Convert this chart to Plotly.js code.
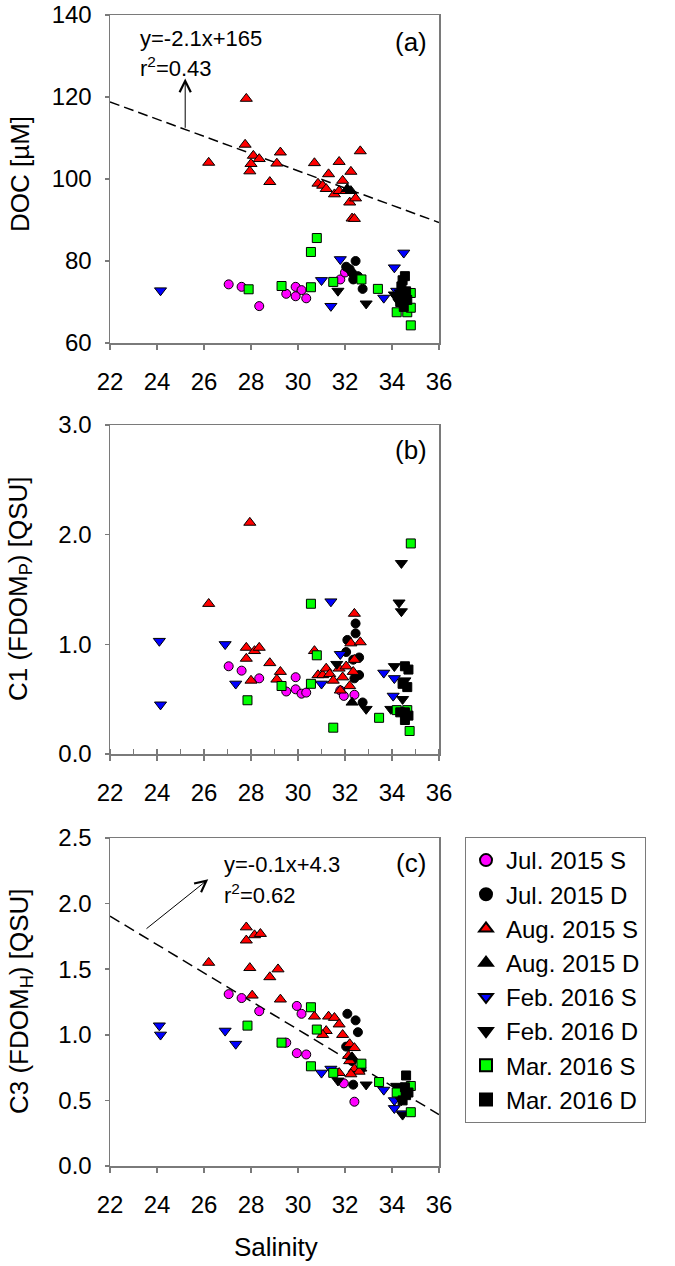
<!DOCTYPE html>
<html>
<head>
<meta charset="utf-8">
<script src="https://cdn.plot.ly/plotly-3.0.1.min.js"></script>
<style>
  html, body { margin: 0; padding: 0; background: #fff; }
  #chart { width: 675px; height: 1266px; }
</style>
</head>
<body>
<div id="chart"></div>
<script>
// ---- data: [salinity, value] ----
const seriesNames = ["Jul. 2015 S", "Jul. 2015 D", "Aug. 2015 S", "Aug. 2015 D",
                     "Feb. 2016 S", "Feb. 2016 D", "Mar. 2016 S", "Mar. 2016 D"];

// (a) DOC [uM]
const docJulS = [[27.05,74.3],[27.6,73.7],[28.35,69.0],[29.5,72.0],[29.9,73.7],[30.15,72.9],[29.9,71.4],[30.35,70.9],[31.8,75.5],[32.0,77.2]];
const docJulD = [[32.45,80.0],[32.05,78.6],[32.2,78.0],[32.3,77.1],[32.55,76.3],[32.35,75.5],[32.75,73.2]];
const docAugS = [[26.2,104.0],[27.8,119.6],[27.75,108.4],[28.1,105.7],[28.35,104.9],[28.0,103.7],[27.95,101.9],[28.8,99.3],
                 [29.25,106.5],[29.1,103.8],[30.7,103.9],[31.75,104.2],[32.65,106.8],[31.3,101.2],[32.25,101.8],[31.9,99.6],
                 [30.85,98.9],[31.05,98.4],[31.2,97.6],[31.55,96.3],[31.75,97.1],[32.05,97.1],[32.2,94.3],[32.45,95.3],
                 [32.3,90.4],[32.4,90.3]];
const docAugD = [[32.25,97.1],[32.1,97.6]];
const docFebS = [[24.15,72.8],[31.0,75.3],[31.4,69.0],[31.8,80.4],[34.1,78.4],[34.5,82.0],[33.65,71.0],[34.2,72.7]];
const docFebD = [[31.7,72.7],[32.9,69.6],[34.2,71.0],[34.3,70.0],[34.45,69.4],[34.1,71.8],[34.35,72.3]];
const docMarS = [[27.9,73.1],[29.3,73.9],[30.55,82.2],[30.8,85.6],[30.55,73.6],[31.5,74.9],[32.7,75.5],[33.4,73.2],
                 [34.2,67.5],[34.65,67.5],[34.8,68.6],[34.8,64.3],[34.8,72.2]];
const docMarD = [[34.55,76.3],[34.45,75.3],[34.4,73.8],[34.6,72.6],[34.5,71.0],[34.35,70.0],[34.65,70.5],[34.5,68.8]];

// (b) C1 (FDOM_P) [QSU]
const c1JulS = [[27.05,0.80],[27.6,0.76],[28.35,0.69],[29.9,0.70],[29.5,0.57],[29.9,0.59],[30.15,0.55],[30.35,0.56],[31.8,0.58],[31.95,0.53],[32.4,0.54]];
const c1JulD = [[32.45,1.19],[32.45,1.10],[32.1,1.04],[32.05,0.93],[32.6,0.88],[32.35,0.86],[32.6,0.72],[32.4,0.69],[32.75,0.47]];
const c1AugS = [[27.95,2.11],[26.2,1.37],[27.8,0.97],[28.15,0.94],[28.35,0.97],[27.8,0.87],[28.8,0.83],[28.0,0.67],
                [29.25,0.75],[29.1,0.68],[30.7,0.94],[30.85,0.72],[31.05,0.72],[31.2,0.78],[31.35,0.73],[31.5,0.67],
                [31.75,0.78],[31.8,0.58],[31.9,0.70],[32.05,0.80],[32.2,0.62],[32.25,1.01],[32.4,1.28],[32.65,1.02],
                [32.35,0.75],[32.4,0.86]];
const c1AugD = [[32.3,0.47]];
const c1FebS = [[24.1,1.03],[24.15,0.45],[26.9,1.00],[27.35,0.64],[31.4,1.39],[31.0,0.64],[31.8,0.91],[33.65,0.74],[34.1,0.69],[34.05,0.53]];
const c1FebD = [[34.4,1.74],[34.3,1.38],[34.4,1.30],[31.65,0.82],[32.9,0.41],[34.1,0.80],[33.95,0.41],[34.45,0.50],[34.55,0.67]];
const c1MarS = [[34.8,1.92],[27.85,0.49],[29.3,0.62],[30.55,1.37],[30.8,0.90],[30.55,0.64],[31.5,0.24],[33.45,0.33],[34.2,0.40],[34.65,0.40],[34.75,0.21]];
const c1MarD = [[34.55,0.80],[34.7,0.77],[34.45,0.64],[34.65,0.61],[34.55,0.38],[34.35,0.38],[34.7,0.35],[34.55,0.31]];

// (c) C3 (FDOM_H) [QSU]
const c3JulS = [[27.05,1.31],[27.6,1.28],[28.35,1.18],[29.95,1.22],[30.15,1.16],[29.5,0.94],[29.95,0.86],[30.35,0.85],[31.95,0.63],[32.4,0.49]];
const c3JulD = [[32.1,1.16],[32.45,1.11],[32.55,1.02],[32.05,0.91],[32.35,0.62],[32.7,0.74],[32.3,0.80]];
const c3AugS = [[27.8,1.82],[28.15,1.76],[28.4,1.77],[27.8,1.72],[26.2,1.55],[27.95,1.51],[29.15,1.50],[28.8,1.44],
                [28.05,1.30],[29.25,1.27],[30.7,1.14],[31.3,1.14],[31.55,1.13],[31.75,1.08],[31.2,1.03],[31.05,1.00],
                [31.9,1.00],[32.2,0.93],[32.4,0.90],[32.15,0.84],[32.2,0.80],[32.4,0.74],[32.6,0.72],[32.25,0.70],[31.75,0.71]];
const c3AugD = [[32.3,0.83]];
const c3FebS = [[24.1,1.07],[24.15,1.00],[26.9,1.03],[27.35,0.93],[31.0,0.71],[31.4,0.74],[33.65,0.58],[34.1,0.50],[34.1,0.44],[34.45,0.40]];
const c3FebD = [[31.7,0.65],[32.9,0.62],[34.2,0.61],[34.4,0.50],[34.45,0.39],[34.3,0.58]];
const c3MarS = [[27.85,1.07],[29.3,0.94],[30.55,1.21],[30.8,1.04],[30.55,0.76],[31.5,0.71],[32.7,0.78],[33.45,0.64],[34.2,0.56],[34.8,0.61],[34.8,0.41]];
const c3MarD = [[34.6,0.69],[34.55,0.60],[34.7,0.56],[34.45,0.50],[34.6,0.54]];

// linear fits (slope, intercept)
const fitA = [-2.1, 165];
const fitC = [-0.108, 4.28];
const salTicks = [22, 24, 26, 28, 30, 32, 34, 36];

// ---- styling ----
const W = 675, H = 1266;
const px = (x) => x / W;
const py = (y) => 1 - y / H;
const FONT = "Liberation Sans, Arial, sans-serif";
const GREY = "#7a7a7a";

const styles = [
  { symbol: "circle", color: "#ff00ff", size: 9 },
  { symbol: "circle", color: "#000000", size: 9 },
  { symbol: "triangle-up", color: "#ff0000", size: 10.5 },
  { symbol: "triangle-up", color: "#000000", size: 10.5 },
  { symbol: "triangle-down", color: "#0000ff", size: 10.5 },
  { symbol: "triangle-down", color: "#000000", size: 10.5 },
  { symbol: "square", color: "#00ff00", size: 9 },
  { symbol: "square", color: "#000000", size: 9 },
];

const panels = [
  { xa: "x", ya: "y", sets: [docJulS, docJulD, docAugS, docAugD, docFebS, docFebD, docMarS, docMarD], legend: false },
  { xa: "x2", ya: "y2", sets: [c1JulS, c1JulD, c1AugS, c1AugD, c1FebS, c1FebD, c1MarS, c1MarD], legend: false },
  { xa: "x3", ya: "y3", sets: [c3JulS, c3JulD, c3AugS, c3AugD, c3FebS, c3FebD, c3MarS, c3MarD], legend: true },
];

let traces = [];

// dashed regression lines
function fitTrace(fit, xa, ya, dash) {
  let xs = [salTicks[0], salTicks[salTicks.length - 1]];
  return {
    x: xs, y: xs.map((v) => fit[0] * v + fit[1]),
    xaxis: xa, yaxis: ya, mode: "lines", type: "scatter",
    line: { color: "#000", width: 1.5, dash: dash },
    showlegend: false, hoverinfo: "skip",
  };
}
traces.push(fitTrace(fitA, "x", "y", "10px,5px"));
traces.push(fitTrace(fitC, "x3", "y3", "11px,6px"));

for (let p = 0; p < panels.length; p++) {
  let panel = panels[p];
  for (let s = 0; s < panel.sets.length; s++) {
    let pts = panel.sets[s];
    let st = styles[s];
    traces.push({
      x: pts.map((d) => d[0]),
      y: pts.map((d) => d[1]),
      xaxis: panel.xa, yaxis: panel.ya,
      mode: "markers", type: "scatter",
      name: seriesNames[s],
      legendgroup: seriesNames[s],
      showlegend: panel.legend,
      marker: { symbol: st.symbol, color: st.color, size: st.size, line: { color: "#000", width: 1 } },
    });
  }
}

function xAxis(anchor, minor) {
  let ax = {
    domain: [px(110), px(439)], anchor: anchor, range: [22, 36],
    tickmode: "linear", tick0: 22, dtick: 2,
    ticks: "outside", ticklen: 5, tickwidth: 1.5, tickcolor: GREY,
    showline: true, linecolor: GREY, linewidth: 1.5, mirror: true,
    showgrid: false, zeroline: false,
    tickfont: { family: FONT, size: 24, color: "#000" },
    ticklabelstandoff: 12,
  };
  if (minor) ax.minor = { dtick: 1, tick0: 22, ticks: "inside", ticklen: 5, tickwidth: 1.5, tickcolor: GREY, showgrid: false };
  return ax;
}
function yAxis(anchor, top, bottom, range, dtick, fmt) {
  return {
    domain: [py(bottom), py(top)], anchor: anchor, range: range,
    tickmode: "linear", tick0: range[0], dtick: dtick, tickformat: fmt,
    ticks: "outside", ticklen: 4, tickwidth: 1.5, tickcolor: GREY,
    showline: true, linecolor: GREY, linewidth: 1.5, mirror: true,
    showgrid: false, zeroline: false,
    tickfont: { family: FONT, size: 24, color: "#000" },
    ticklabelstandoff: 8,
  };
}

function label(text, x, y, size, extra) {
  return Object.assign({
    text: text, xref: "paper", yref: "paper", x: px(x), y: py(y),
    xanchor: "center", yanchor: "middle", showarrow: false,
    font: { family: FONT, size: size, color: "#000" },
  }, extra || {});
}
function arrow(xa, ya, tip, tail) {
  return {
    text: " ", xref: xa, yref: ya, axref: xa, ayref: ya,
    x: tip[0], y: tip[1], ax: tail[0], ay: tail[1],
    showarrow: true, arrowhead: 5, arrowsize: 2.2, arrowwidth: 1, arrowcolor: "#000",
    standoff: 0, startstandoff: 0, font: { size: 1 },
  };
}

let layout = {
  width: W, height: H,
  margin: { l: 0, r: 0, t: 0, b: 0 },
  paper_bgcolor: "#fff", plot_bgcolor: "#fff",
  font: { family: FONT, color: "#000" },
  xaxis: xAxis("y", false),
  yaxis: yAxis("x", 15, 343, [60, 140], 20, "d"),
  xaxis2: xAxis("y2", true),
  yaxis2: yAxis("x2", 425, 754, [0, 3], 1, ".1f"),
  xaxis3: xAxis("y3", false),
  yaxis3: yAxis("x3", 838, 1166, [0, 2.5], 0.5, ".1f"),
  // top edge of panel (b) carries only the inner minor ticks
  xaxis4: {
    overlaying: "x2", anchor: "y2", side: "top", range: [22, 36],
    tickmode: "linear", tick0: 23, dtick: 2, ticks: "inside", ticklen: 5, tickwidth: 1.5, tickcolor: GREY,
    showticklabels: false, showline: false, showgrid: false, zeroline: false,
  },
  showlegend: true,
  legend: {
    x: px(465), y: py(837), xanchor: "left", yanchor: "top",
    bgcolor: "#fff", bordercolor: GREY, borderwidth: 1,
    font: { family: FONT, size: 24, color: "#000" },
    itemsizing: "constant", tracegroupgap: 0,
    entrywidth: 162, entrywidthmode: "pixels",
  },
  annotations: [
    label("DOC [\u00b5M]", 20, 174, 26, { textangle: -90 }),
    label("C1 (FDOM<sub>P</sub>) [QSU]", 20, 589, 26, { textangle: -90 }),
    label("C3 (FDOM<sub>H</sub>) [QSU]", 20, 1002, 26, { textangle: -90 }),
    label("Salinity", 276, 1247, 26),
    label("(a)", 411, 42, 26),
    label("(b)", 411, 450, 26),
    label("(c)", 411, 863, 26),
    label("y=-2.1x+165", 138, 38, 22, { xanchor: "left" }),
    label("r<sup>2</sup>=0.43", 138, 67, 22, { xanchor: "left" }),
    label("y=-0.1x+4.3", 222, 864, 22, { xanchor: "left" }),
    label("r<sup>2</sup>=0.62", 222, 894, 22, { xanchor: "left" }),
    arrow("x", "y", [25.2, 124.5], [25.2, 112.0]),
    arrow("x3", "y3", [26.18, 2.185], [23.49, 1.80]),
  ],
};

Plotly.newPlot("chart", traces, layout, { staticPlot: true, displayModeBar: false });
</script>
</body>
</html>
